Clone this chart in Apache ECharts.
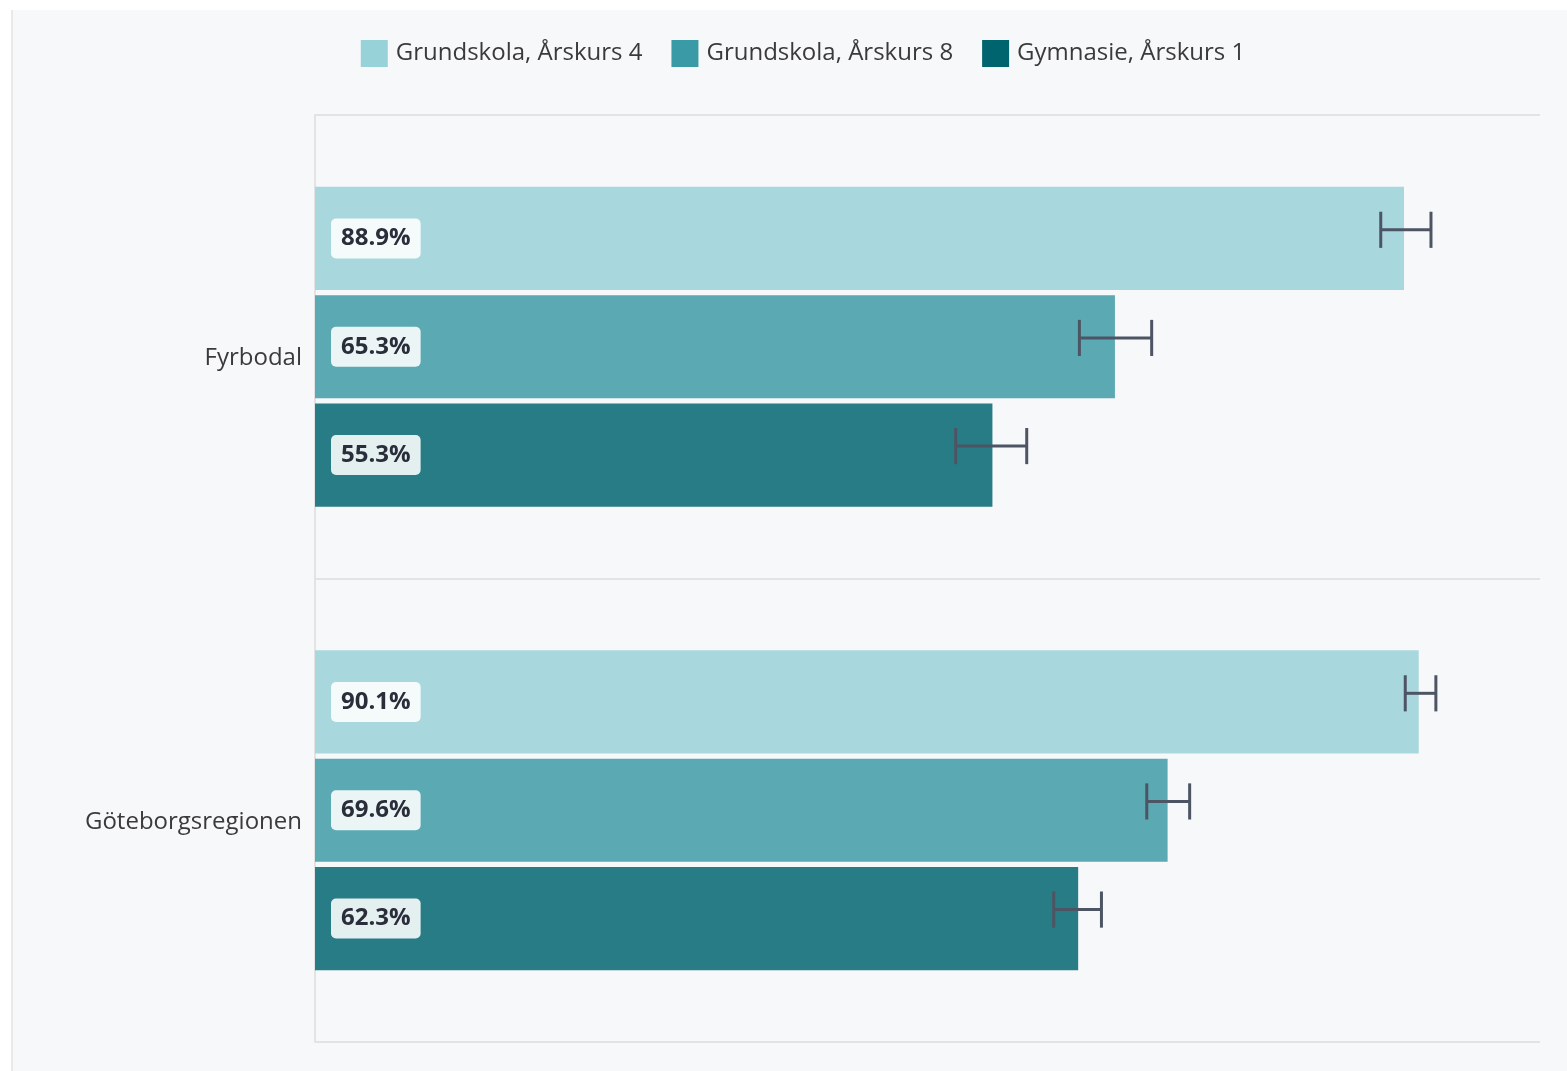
<!DOCTYPE html>
<html><head><meta charset="utf-8">
<script src="https://cdn.jsdelivr.net/npm/echarts@6/dist/echarts.min.js"></script>
<style>
html,body{margin:0;padding:0;background:#fff;overflow:hidden;}
#wrap{position:absolute;left:11px;top:10px;width:1580px;height:1100px;background:#f7f8fa;border-left:2px solid #e9e9e9;}
#chart{width:1580px;height:1100px;}
</style></head>
<body><div id="wrap"><div id="chart"></div></div>
<script>
const categories = ['Fyrbodal', 'Göteborgsregionen'];
const seriesNames = ['Grundskola, Årskurs 4', 'Grundskola, Årskurs 8', 'Gymnasie, Årskurs 1'];
const values = [
  [88.9, 90.1],
  [65.3, 69.6],
  [55.3, 62.3]
];
const errLow = [
  [87.0, 89.0],
  [62.4, 67.9],
  [52.3, 60.3]
];
const errHigh = [
  [91.1, 91.5],
  [68.3, 71.4],
  [58.1, 64.2]
];
const barColors = ['#a8d8dd', '#5aa9b3', '#277c85'];
const legendColors = ['#98d2d9', '#3a9aa6', '#00646e'];

const FONT = '"Open Sans", "Noto Sans", sans-serif';
const chart = echarts.init(document.getElementById('chart'));

const series = [];
seriesNames.forEach((name, i) => {
  series.push({
    name: name,
    type: 'bar',
    data: values[i],
    barGap: '5%',
    barCategoryGap: '31%',
    itemStyle: { color: barColors[i] },
    label: {
      show: true,
      position: 'insideLeft',
      distance: 16,
      formatter: p => p.value.toFixed(1) + '%',
      fontFamily: FONT,
      fontWeight: 'bold',
      fontSize: 24,
      lineHeight: 24,
      color: '#2a2d3a',
      backgroundColor: 'rgba(255,255,255,0.88)',
      borderRadius: 5,
      padding: [8, 10, 8, 10]
    },
    emphasis: { disabled: true },
    z: 2
  });
});
seriesNames.forEach((name, i) => {
  series.push({
    name: name,
    type: 'custom',
    data: errLow[i].map((lo, j) => [lo, errHigh[i][j], j]),
    encode: { x: [0, 1], y: 2 },
    renderItem: function (params, api) {
      const band = api.size([0, 1])[1];
      const lo = api.coord([api.value(0), api.value(2)]);
      const hi = api.coord([api.value(1), api.value(2)]);
      const off = (i - 1) * band * 0.2333 - band * 0.019;
      const y = lo[1] + off;
      const h = band * 0.039;
      const st = { stroke: '#4d5564', lineWidth: 3 };
      return {
        type: 'group',
        children: [
          { type: 'line', shape: { x1: lo[0], y1: y, x2: hi[0], y2: y }, style: st },
          { type: 'line', shape: { x1: lo[0], y1: y - h, x2: lo[0], y2: y + h }, style: st },
          { type: 'line', shape: { x1: hi[0], y1: y - h, x2: hi[0], y2: y + h }, style: st }
        ]
      };
    },
    z: 5,
    silent: true
  });
});

chart.setOption({
  animation: false,
  backgroundColor: 'transparent',
  legend: {
    top: 25,
    left: 'center',
    itemWidth: 27,
    itemHeight: 27,
    itemGap: 29,
    icon: 'rect',
    textStyle: { fontFamily: FONT, fontSize: 24, color: '#3a3a3a', padding: [0, 0, 0, 3] },
    data: seriesNames.map((n, i) => ({ name: n, itemStyle: { color: legendColors[i] } }))
  },
  grid: { left: 302, top: 105, width: 1225, height: 927 },
  xAxis: {
    type: 'value', min: 0, max: 100,
    axisLine: { show: false }, axisTick: { show: false },
    axisLabel: { show: false }, splitLine: { show: false }
  },
  yAxis: {
    type: 'category',
    inverse: true,
    data: categories,
    axisLine: { show: true, lineStyle: { color: '#e3e3e3', width: 2 } },
    axisTick: { show: false },
    splitLine: { show: true, lineStyle: { color: '#e3e3e3', width: 2 } },
    axisLabel: { fontFamily: FONT, fontSize: 24, color: '#3a3a3a', margin: 13, verticalAlign: 'top', lineHeight: 23 }
  },
  series: series
});
</script></body></html>
